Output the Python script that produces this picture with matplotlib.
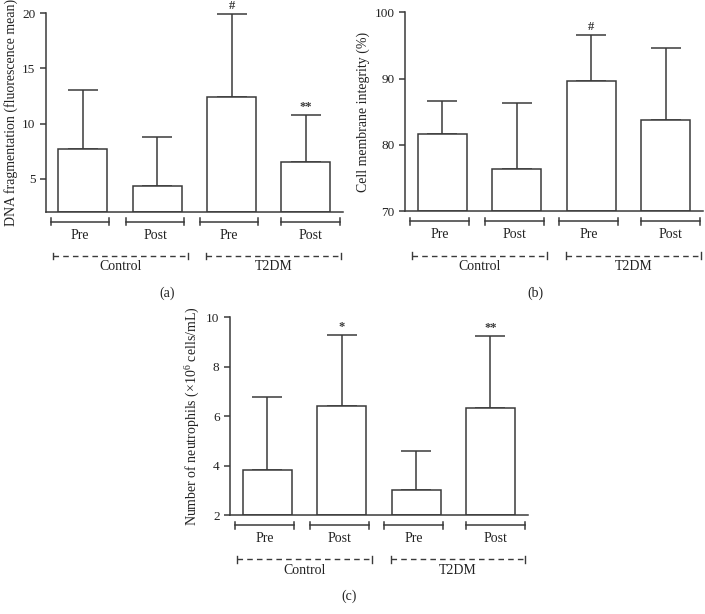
import numpy as np
import matplotlib
matplotlib.use("Agg")
import matplotlib.pyplot as plt

plt.rcParams['font.family'] = ['Liberation Serif', 'DejaVu Serif']
plt.rcParams['mathtext.fontset'] = 'custom'
plt.rcParams['mathtext.rm'] = 'Liberation Serif'
plt.rcParams['mathtext.default'] = 'regular'

# data
bar_labels = ["Pre", "Post", "Pre", "Post"]
groups = ["Control", "T2DM"]

dna_mean = [7.68, 4.30, 12.44, 6.54]
dna_sd = [5.32, 4.52, 7.51, 4.26]
dna_marks = ["", "", "#", "**"]

mem_mean = [81.66, 76.4, 89.6, 83.7]
mem_sd = [5.04, 9.9, 7.0, 10.9]
mem_marks = ["", "", "#", ""]

neu_mean = [3.85, 6.42, 3.01, 6.34]
neu_sd = [2.93, 2.85, 1.58, 2.91]
neu_marks = ["", "*", "", "**"]

INK = "#3a3a3a"
W, H = 705, 614

# bracket spans under each bar / group (x units)
bar_spans = [(-0.43, 0.355), (0.58, 1.365), (1.57, 2.36), (2.67, 3.46)]
grp_spans = [(-0.40, 1.41), (1.66, 3.47)]


def px_axes(fig, left, top, right, bottom):
    return fig.add_axes([left / W, 1 - bottom / H, (right - left) / W, (bottom - top) / H])


def panel(ax, means, sds, marks, ylim, yticks, ylabel):
    x = np.arange(len(means))
    ax.bar(x, np.array(means) - ylim[0], bottom=ylim[0], width=0.66,
           color="white", edgecolor=INK, linewidth=1.1, zorder=2)
    ax.errorbar(x, means, yerr=[np.zeros(len(sds)), sds], fmt="none",
                ecolor=INK, elinewidth=1.1, capsize=10.5, capthick=1.1, zorder=1)
    for xi, m, s, mk in zip(x, means, sds, marks):
        if mk:
            ax.annotate(mk, (xi, m + s), xytext=(0, 1.5), textcoords="offset points",
                        ha="center", va="bottom", fontsize=9, fontweight="bold",
                        color=INK, annotation_clip=False)
    ax.set_xlim(-0.5, 3.5)
    ax.set_ylim(*ylim)
    ax.set_yticks(yticks)
    ax.set_xticks([])
    ax.spines[["top", "right"]].set_visible(False)
    for s in ["left", "bottom"]:
        ax.spines[s].set_color(INK)
        ax.spines[s].set_linewidth(1.1)
    ax.tick_params(axis="y", direction="out", length=4, width=1.1, color=INK,
                   labelsize=9.5, labelcolor="#222222")
    ax.set_ylabel(ylabel, fontsize=10, color="#222222", labelpad=3)

    tr = ax.get_xaxis_transform()
    # per-bar brackets
    for (a, b), lab in zip(bar_spans, bar_labels):
        ax.plot([a, b], [-0.05, -0.05], color=INK, lw=1.1, transform=tr, clip_on=False)
        for e in (a, b):
            ax.plot([e, e], [-0.033, -0.067], color=INK, lw=1.1, transform=tr, clip_on=False)
        ax.text((a + b) / 2, -0.118, lab, transform=tr, ha="center", va="center",
                fontsize=10, color="#222222")
    # dashed group brackets
    for (a, b), lab in zip(grp_spans, groups):
        ax.plot([a, b], [-0.223, -0.223], color=INK, lw=1.0, ls=(0, (4, 3)),
                transform=tr, clip_on=False)
        for e in (a, b):
            ax.plot([e, e], [-0.206, -0.240], color=INK, lw=1.0, transform=tr, clip_on=False)
        ax.text((a + b) / 2, -0.277, lab, transform=tr, ha="center", va="center",
                fontsize=10, color="#222222")


fig = plt.figure(figsize=(W / 100, H / 100), dpi=100)

ax_a = px_axes(fig, 45.7, 13.3, 343, 211.7)
panel(ax_a, dna_mean, dna_sd, dna_marks, (2, 20), [5, 10, 15, 20],
      "DNA fragmentation (fluorescence mean)")

ax_b = px_axes(fig, 405, 12.3, 703, 211.3)
panel(ax_b, mem_mean, mem_sd, mem_marks, (70, 100), [70, 80, 90, 100],
      "Cell membrane integrity (%)")

ax_c = px_axes(fig, 230, 317.3, 527.7, 515.3)
panel(ax_c, neu_mean, neu_sd, neu_marks, (2, 10), [2, 4, 6, 8, 10],
      r"Number of neutrophils (×10$^{6}$ cells/mL)")

fig.text(167 / W, 1 - 293 / H, "(a)", ha="center", va="center", fontsize=10, color="#222222")
fig.text(535 / W, 1 - 293 / H, "(b)", ha="center", va="center", fontsize=10, color="#222222")
fig.text(349 / W, 1 - 596 / H, "(c)", ha="center", va="center", fontsize=10, color="#222222")

fig.savefig("out.png", dpi=100)
